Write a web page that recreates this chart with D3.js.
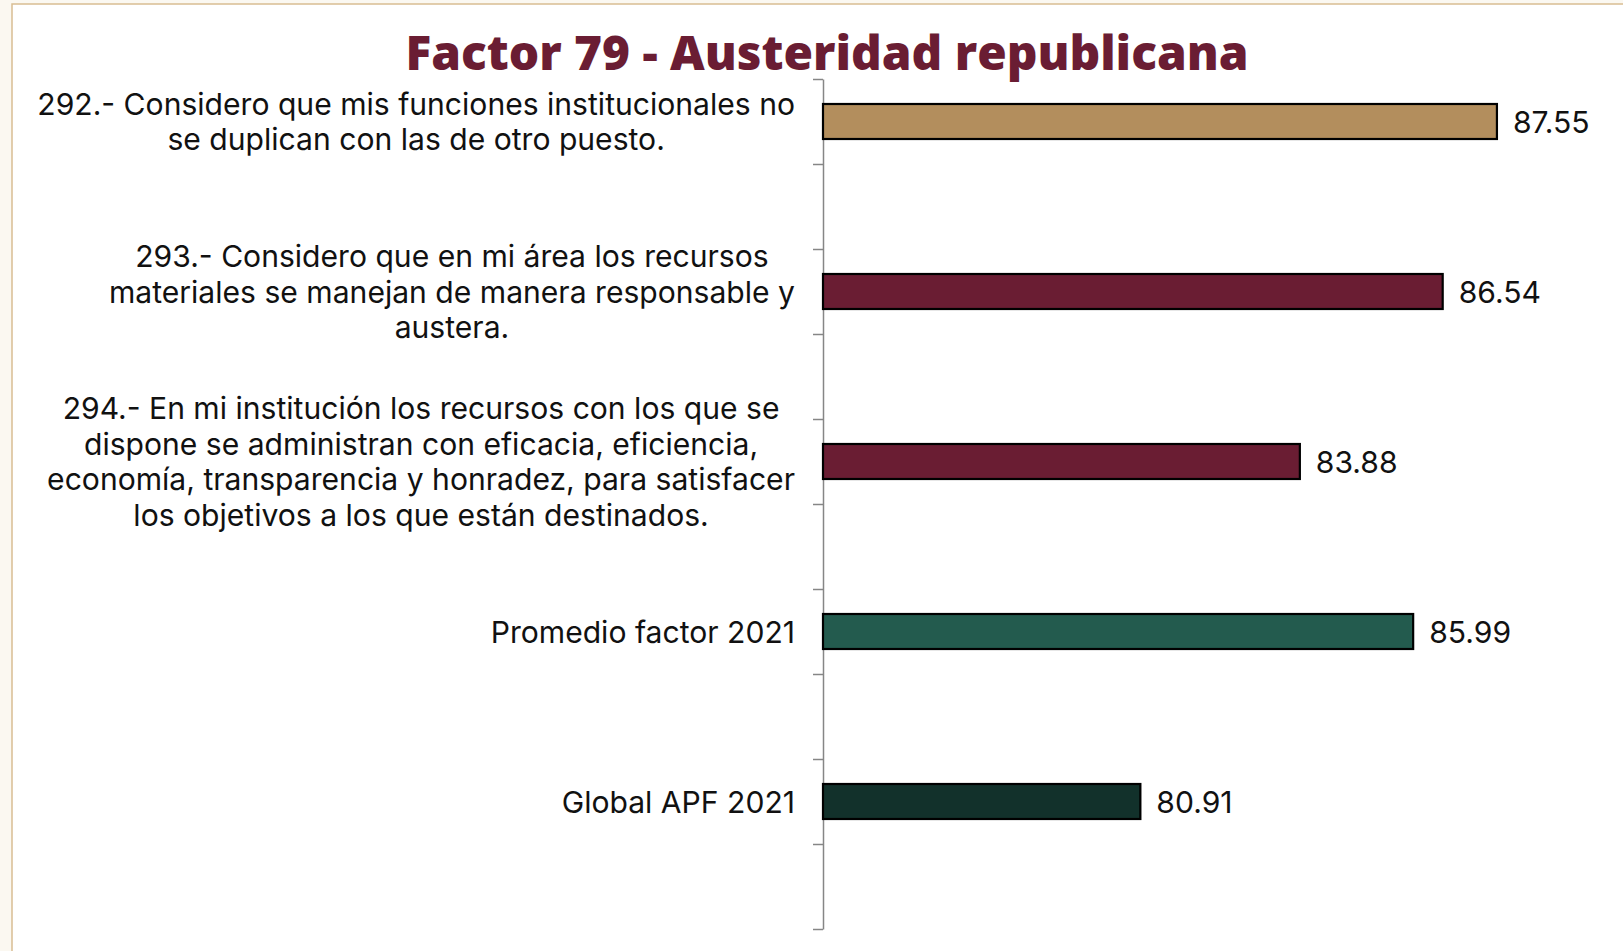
<!DOCTYPE html>
<html>
<head>
<meta charset="utf-8">
<script src="https://cdn.jsdelivr.net/npm/d3@7/dist/d3.min.js"></script>
<style>
  html, body { margin: 0; padding: 0; background: #fbf8f1; }
  svg { display: block; }
</style>
</head>
<body>
<svg id="chart"></svg>
<script>
const width = 1623;
const height = 951;

// data
const categories = ["292", "293", "294", "prom", "global"];
const labelLines = [
  ["292.- Considero que mis funciones institucionales no", "se duplican con las de otro puesto."],
  ["293.- Considero que en mi área los recursos", "materiales se manejan de manera responsable y", "austera."],
  ["294.- En mi institución los recursos con los que se", "dispone se administran con eficacia, eficiencia,", "economía, transparencia y honradez, para satisfacer", "los objetivos a los que están destinados."],
  ["Promedio factor 2021"],
  ["Global APF 2021"]
];
const values = [87.55, 86.54, 83.88, 85.99, 80.91];
const barColors = ["#b38e5d", "#6a1d33", "#6a1d33", "#235b4e", "#12312b"];
const titleText = "Factor 79 - Austeridad republicana";

const plot = {left: 823, top: 79, bottom: 929};
const barH = 35;
const labelRight = 795;
const lineH = 35.5;
const font = "Inter, 'Open Sans', sans-serif";

const svg = d3.select('#chart').attr('width', width).attr('height', height);

// page frame: cream strip, white sheet with a thin tan border
svg.append('rect').attr('width', width).attr('height', height).attr('fill', '#fbf8f1');
svg.append('rect')
  .attr('x', 12).attr('y', 4)
  .attr('width', width).attr('height', height)
  .attr('fill', '#ffffff')
  .attr('stroke', '#d9bd93')
  .attr('stroke-width', 1.5);

const x = d3.scaleLinear([75, 90], [plot.left, plot.left + 15 * 53.7]);
const y = d3.scaleBand(categories, [plot.top, plot.bottom]);

// category axis: a tick at every half band
const tickScale = d3.scaleLinear([0, 10], [plot.top, plot.bottom]);
svg.append('g').attr('id', 'yAxis')
  .attr('transform', `translate(${plot.left},0)`)
  .call(d3.axisLeft(tickScale).ticks(10).tickSize(10).tickSizeOuter(0).tickFormat(''))
  .call(g => g.selectAll('path, line').attr('stroke', '#868686').attr('stroke-width', 1.5));

// bars
svg.append('g').attr('id', 'bars')
  .selectAll('rect')
  .data(categories)
  .join('rect')
    .attr('x', x(75))
    .attr('y', d => y(d) + y.bandwidth() / 4 - barH / 2)
    .attr('width', (d, i) => x(values[i]) - x(75))
    .attr('height', barH)
    .attr('fill', (d, i) => barColors[i])
    .attr('stroke', '#000')
    .attr('stroke-width', 2.2);

// category labels, one text per line, each block centred on itself, widest line flush right
const labels = svg.append('g').attr('id', 'labels')
  .attr('font-family', font)
  .attr('font-size', '28px')
  .attr('fill', '#111');

const blocks = labels.selectAll('g')
  .data(categories)
  .join('g');

blocks.each(function(d, i) {
  let g = d3.select(this);
  let lines = labelLines[i];
  let cy = y(d) + y.bandwidth() / 4;
  lines.forEach((l, j) => {
    g.append('text')
      .attr('text-anchor', 'middle')
      .attr('y', cy + (j - (lines.length - 1) / 2) * lineH)
      .attr('dominant-baseline', 'central')
      .text(l);
  });
});

// fit font size so the first long line spans what it does in the picture
let firstLine = labels.select('text').node();
let fs = 28 * 758 / firstLine.getComputedTextLength();
labels.attr('font-size', fs + 'px');

blocks.each(function() {
  let g = d3.select(this);
  let maxW = d3.max(g.selectAll('text').nodes(), n => n.getComputedTextLength());
  g.selectAll('text').attr('x', labelRight - maxW / 2);
});

// value labels
svg.append('g').attr('id', 'values')
  .attr('font-family', font)
  .attr('font-size', fs + 'px')
  .attr('fill', '#111')
  .selectAll('text')
  .data(categories)
  .join('text')
    .attr('x', (d, i) => x(values[i]) + 16)
    .attr('y', d => y(d) + y.bandwidth() / 4)
    .attr('dominant-baseline', 'central')
    .text((d, i) => values[i].toFixed(2));

// title
svg.append('text')
  .attr('x', 827)
  .attr('y', 70)
  .attr('text-anchor', 'middle')
  .attr('font-family', "'Open Sans', sans-serif")
  .attr('font-weight', 800)
  .attr('font-size', '48px')
  .attr('fill', '#6a1d33')
  .attr('textLength', 843)
  .attr('lengthAdjust', 'spacingAndGlyphs')
  .text(titleText);
</script>
</body>
</html>
